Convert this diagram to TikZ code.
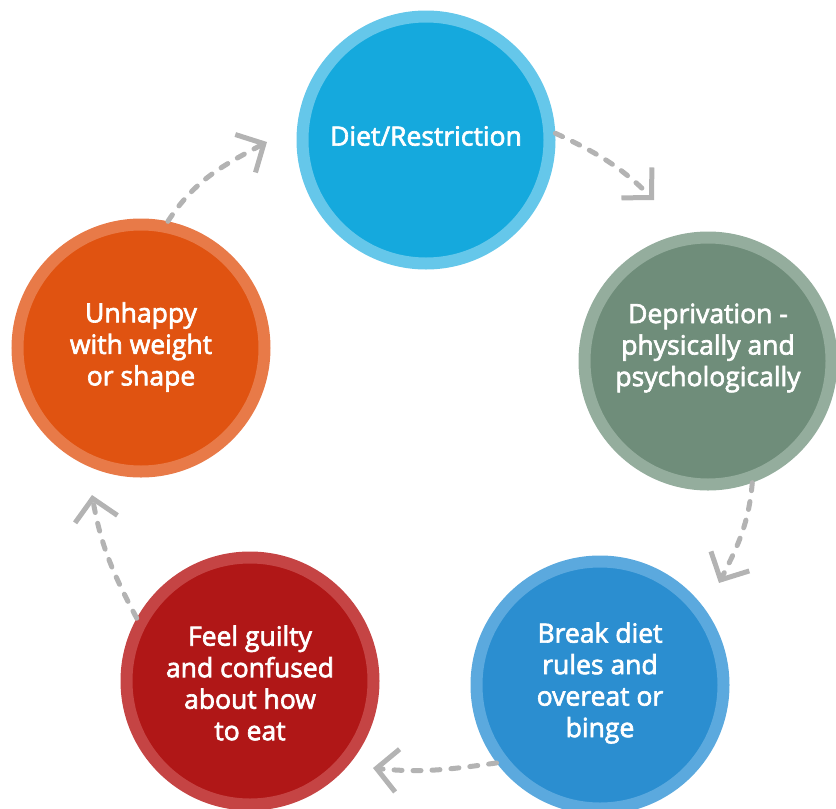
\documentclass[tikz,border=0pt]{standalone}
\usepackage{fontspec}
\usetikzlibrary{arrows.meta}
\newfontfamily\lblfont{Open Sans}[FakeBold=2.5]
\definecolor{c1fill}{HTML}{15A9DD}\definecolor{c1ring}{HTML}{65C7EA}
\definecolor{c2fill}{HTML}{6F8D7A}\definecolor{c2ring}{HTML}{94AD9D}
\definecolor{c3fill}{HTML}{2B8ED0}\definecolor{c3ring}{HTML}{5BA9DE}
\definecolor{c4fill}{HTML}{B01717}\definecolor{c4ring}{HTML}{C54444}
\definecolor{c5fill}{HTML}{E05311}\definecolor{c5ring}{HTML}{E87A48}
\definecolor{arrowgray}{HTML}{B3B3B3}
\begin{document}
\begin{tikzpicture}[x=1pt,y=1pt,
  bubble/.style={circle,line width=12pt,minimum size=247pt,inner sep=0pt},
  lbl/.style={text=white,align=center,font=\lblfont\fontsize{26.5}{31.5}\selectfont},
  cyc/.style={draw=arrowgray,line width=5pt,line cap=round,dash pattern=on 8pt off 11pt,
    -{Straight Barb[length=21pt,width=43pt,line width=5pt]}}]
\useasboundingbox (0,0) rectangle (836,-809);
\clip (0,0) rectangle (836,-809);
\node[bubble,fill=c1fill,draw=c1ring] (c1) at (426,-140) {};
\node[bubble,fill=c2fill,draw=c2ring] (c2) at (708,-361) {};
\node[bubble,fill=c3fill,draw=c3ring] (c3) at (600,-685) {};
\node[bubble,fill=c4fill,draw=c4ring] (c4) at (250,-681) {};
\node[bubble,fill=c5fill,draw=c5ring] (c5) at (141,-348) {};
\node[lbl] (t1) at (426,-136) {Diet/Restriction};
\node[lbl] (t2) at (708,-348) {Deprivation -\\physically and\\psychologically};
\node[lbl] (t3) at (600,-683) {Break diet\\rules and\\overeat or\\binge};
\node[lbl] (t4) at (250,-683) {Feel guilty\\and confused\\about how\\to eat};
\node[lbl] (t5) at (141,-347) {Unhappy\\with weight\\or shape};
\coordinate (e1) at (654,-200);
\coordinate (e2) at (719,-583);
\coordinate (e3) at (373,-768);
\coordinate (e4) at (92,-495);
\coordinate (e5) at (267,-142);
\draw[cyc] (c1.3) to[out=-25,in=135] (e1);
\draw[cyc] (c2.-70) to[out=-95,in=63] (e2);
\draw[cyc] (c3.-143) to[out=188,in=-6] (e3);
\draw[cyc] (c4.151) to[out=118,in=-80] (e4);
\draw[cyc] (c5.78) to[out=57,in=208] (e5);
\end{tikzpicture}
\end{document}
